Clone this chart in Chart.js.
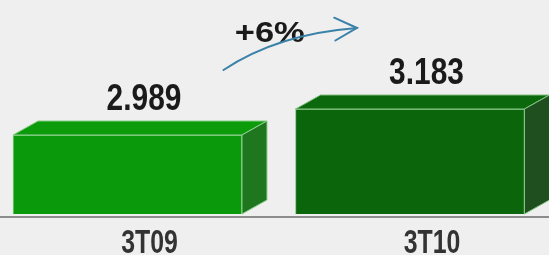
<!DOCTYPE html>
<html>
<head>
<meta charset="utf-8">
<script src="https://cdn.jsdelivr.net/npm/chart.js@4"></script>
<style>
  html, body { margin: 0; padding: 0; background: #efefef; }
  #wrap { width: 549px; height: 255px; }
</style>
</head>
<body>
<div id="wrap"><canvas id="chart"></canvas></div>
<script>
"use strict";
const quarters = ['3T09', '3T10'];
const volumes = [2.989, 3.183];
const growthLabel = '+6%';

const FONT = '"Liberation Sans", Arial, sans-serif';
const DEPTH_X = 25;
const DEPTH_Y = 14;
const faces = [
    { front: '#0a990a', top: '#0b9b0b', side: '#1e761e', edge: '#8fd08f' },
    { front: '#0b650b', top: '#0c680c', side: '#1f4e1f', edge: '#86c486' }
];

// condensed-looking text: squeeze horizontally around the anchor point
function narrowText(ctx, text, x, y, size, squeeze, color) {
    ctx.save();
    ctx.translate(x, y);
    ctx.scale(squeeze, 1);
    ctx.fillStyle = color;
    ctx.font = 'bold ' + size + 'px ' + FONT;
    ctx.textAlign = 'center';
    ctx.textBaseline = 'alphabetic';
    ctx.fillText(text, 0, 0);
    ctx.restore();
}

// draws the top + side faces of each bar, the value labels, category labels and the growth arrow
const box3d = {
    id: 'box3d',
    afterDatasetsDraw(chart) {
        const ctx = chart.ctx;
        const bars = chart.getDatasetMeta(0).data;
        const xs = chart.scales.x;
        bars.forEach((bar, i) => {
            const c = faces[i];
            const l = bar.x - bar.width / 2;
            const r = bar.x + bar.width / 2;
            const t = bar.y;
            const b = bar.base;
            ctx.save();
            ctx.lineWidth = 1;
            ctx.strokeStyle = c.edge;
            ctx.beginPath();
            ctx.moveTo(l, t);
            ctx.lineTo(l + DEPTH_X, t - DEPTH_Y);
            ctx.lineTo(r + DEPTH_X, t - DEPTH_Y);
            ctx.lineTo(r, t);
            ctx.closePath();
            ctx.fillStyle = c.top;
            ctx.fill();
            ctx.stroke();
            ctx.beginPath();
            ctx.moveTo(r, t);
            ctx.lineTo(r + DEPTH_X, t - DEPTH_Y);
            ctx.lineTo(r + DEPTH_X, b - DEPTH_Y);
            ctx.lineTo(r, b);
            ctx.closePath();
            ctx.fillStyle = c.side;
            ctx.fill();
            ctx.stroke();
            ctx.restore();

            narrowText(ctx, volumes[i].toFixed(3), bar.x + DEPTH_X / 2 + 4, t - 25, 36, 0.83, '#1a1a1a');
        });

        quarters.forEach((q, i) => {
            narrowText(ctx, q, xs.getPixelForValue(i) + 22, chart.chartArea.bottom + 36, 34, 0.73, '#333333');
        });

        if (bars.length < 2) return;
        const b0 = bars[0];
        const b1 = bars[1];
        narrowText(ctx, growthLabel, (b0.x + b1.x) / 2 + 1, b1.y - 67, 30, 1.15, '#1a1a1a');

        const sx = b0.x + 96, sy = b0.y - 65;
        const cx = b0.x + 150, cy = b1.y - 75;
        const ex = b1.x - 53, ey = b1.y - 81;
        ctx.save();
        ctx.strokeStyle = '#3a82a8';
        ctx.lineWidth = 2;
        ctx.lineCap = 'round';
        ctx.beginPath();
        ctx.moveTo(sx, sy);
        ctx.quadraticCurveTo(cx, cy, ex, ey);
        ctx.stroke();
        const ang = Math.atan2(ey - cy, ex - cx);
        const arm = 25;
        ctx.beginPath();
        ctx.moveTo(ex - arm * Math.cos(ang - 0.45), ey - arm * Math.sin(ang - 0.45));
        ctx.lineTo(ex, ey);
        ctx.lineTo(ex - arm * Math.cos(ang + 0.5), ey - arm * Math.sin(ang + 0.5));
        ctx.stroke();
        ctx.restore();
    }
};

const ctx = document.getElementById('chart').getContext('2d');
new Chart(ctx, {
    type: 'bar',
    data: {
        datasets: [{
            data: volumes.map((v, i) => ({ x: i, y: v })),
            base: 2.3994,
            barThickness: 229,
            backgroundColor: faces.map(f => f.front),
            borderColor: faces.map(f => f.edge),
            borderWidth: 1
        }]
    },
    options: {
        responsive: true,
        maintainAspectRatio: false,
        animation: false,
        layout: { padding: 0 },
        plugins: { legend: { display: false }, tooltip: { enabled: false } },
        scales: {
            x: {
                type: 'linear',
                offset: false,
                min: -0.4513,
                max: 1.4921,
                afterFit: s => { s.height = 38; },
                grid: { display: false, drawTicks: false, offset: false },
                border: { display: true, color: '#8c8c8c', width: 2 },
                ticks: { display: false }
            },
            y: {
                display: false,
                min: 2.377,
                max: 3.996
            }
        }
    },
    plugins: [box3d]
});
</script>
</body>
</html>
